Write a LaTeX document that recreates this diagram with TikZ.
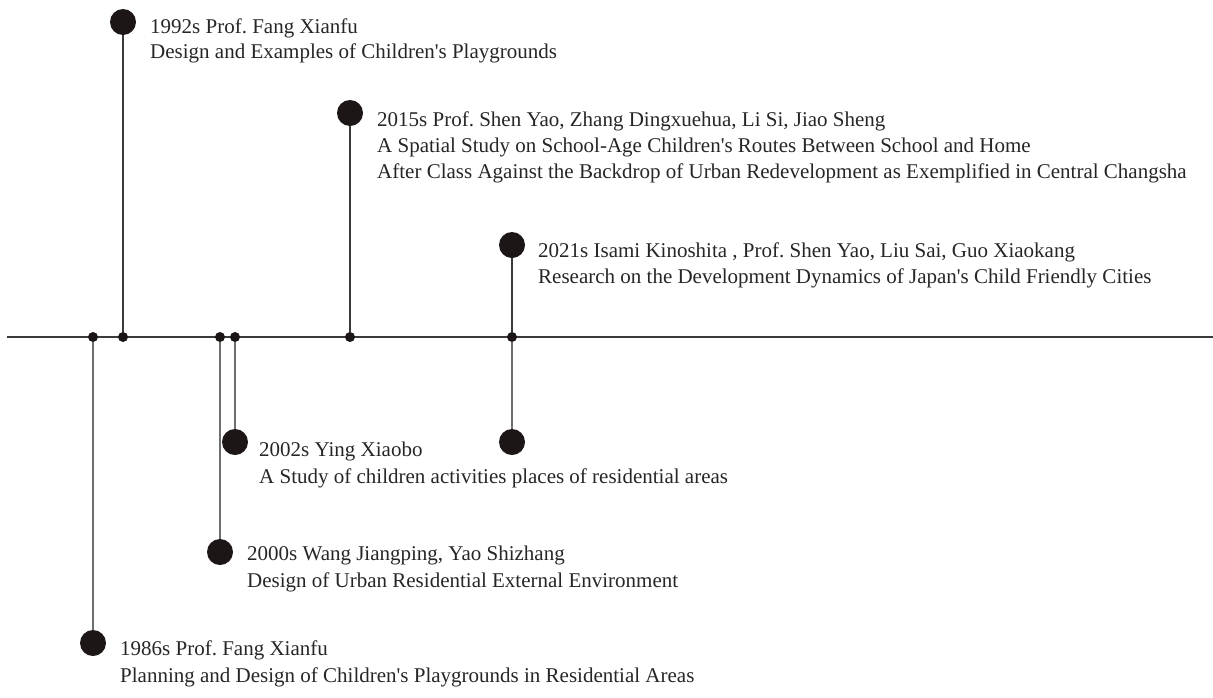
\documentclass[tikz,border=0pt]{standalone}
\usepackage{fontspec}
\setmainfont{Liberation Serif}
\frenchspacing
\begin{document}
\definecolor{inkc}{HTML}{262626}
\definecolor{dotc}{HTML}{1C1616}
\definecolor{axisc}{HTML}{3A3A3A}
\definecolor{lowc}{HTML}{6E6E6E}
\begin{tikzpicture}[x=1pt,y=-1pt,
  bigdot/.style={circle,fill=dotc,inner sep=0pt,minimum size=26pt},
  tick/.style={circle,fill=dotc,inner sep=0pt,minimum size=10pt},
  upstem/.style={draw=axisc,line width=1.5pt},
  downstem/.style={draw=lowc,line width=2pt},
  label/.style={anchor=base west,inner sep=0pt,text=inkc,font=\fontsize{21}{26}\selectfont\frenchspacing}]
\useasboundingbox (0,0) rectangle (1213,697);

% time axis
\coordinate (axL) at (7,337);
\coordinate (axR) at (1213,337);
\draw[draw=axisc,line width=1.8pt] (axL) -- (axR);

% ticks on the axis
\node[tick] (k86) at (93,337) {};
\node[tick] (k92) at (123,337) {};
\node[tick] (k00) at (220,337) {};
\node[tick] (k02) at (235,337) {};
\node[tick] (k15) at (350,337) {};
\node[tick] (k21) at (512,337) {};

% milestone markers
\node[bigdot] (d92) at (123,22) {};
\node[bigdot] (d15) at (350,113) {};
\node[bigdot] (d21) at (512,245) {};
\node[bigdot] (d02) at (235,442) {};
\node[bigdot] (dx)  at (512,442) {};
\node[bigdot] (d00) at (220,552) {};
\node[bigdot] (d86) at (93,643) {};

% stems
\draw[upstem] (k92) -- (d92);
\draw[upstem] (k15) -- (d15);
\draw[upstem] (k21) -- (d21);
\draw[downstem] (k02) -- (d02);
\draw[downstem] (k21) -- (dx);
\draw[downstem] (k00) -- (d00);
\draw[downstem] (k86) -- (d86);

% labels
\node[label] (t92a) at (150,33) {1992s Prof. Fang Xianfu};
\node[label] (t92b) at (150,58) {Design and Examples of Children\textquotesingle s Playgrounds};

\node[label] (t15a) at (377,126) {2015s Prof. Shen Yao, Zhang Dingxuehua, Li Si, Jiao Sheng};
\node[label] (t15b) at (377,152) {A Spatial Study on School-Age Children\textquotesingle s Routes Between School and Home};
\node[label] (t15c) at (377,178) {After Class Against the Backdrop of Urban Redevelopment as Exemplified in Central Changsha};

\node[label] (t21a) at (538,257) {2021s Isami Kinoshita , Prof. Shen Yao, Liu Sai, Guo Xiaokang};
\node[label] (t21b) at (538,283) {Research on the Development Dynamics of Japan\textquotesingle s Child Friendly Cities};

\node[label] (t02a) at (259,456) {2002s Ying Xiaobo};
\node[label] (t02b) at (259,483) {A Study of children activities places of residential areas};

\node[label] (t00a) at (247,560) {2000s Wang Jiangping, Yao Shizhang};
\node[label] (t00b) at (247,587) {Design of Urban Residential External Environment};

\node[label] (t86a) at (120,655) {1986s Prof. Fang Xianfu};
\node[label] (t86b) at (120,682) {Planning and Design of Children\textquotesingle s Playgrounds in Residential Areas};
\end{tikzpicture}
\end{document}
